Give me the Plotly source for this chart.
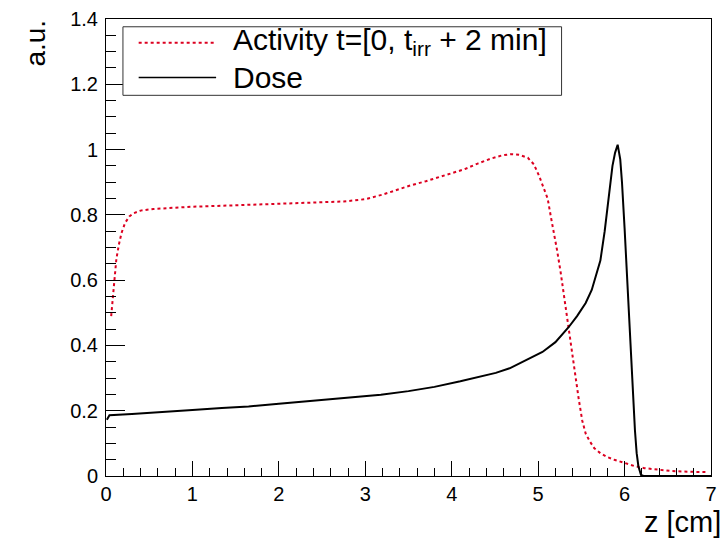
import plotly.graph_objects as go

# activity profile, t = [0, t_irr + 2 min]
act_z = [0.06, 0.08, 0.10, 0.12, 0.15, 0.18, 0.22, 0.27, 0.32, 0.40, 0.55, 0.77,
         1.00, 1.25, 1.50, 1.75, 2.00, 2.25, 2.50, 2.75, 3.00, 3.20, 3.35, 3.52,
         3.70, 3.85, 4.00, 4.15, 4.30, 4.45, 4.58, 4.68, 4.78, 4.88, 4.95, 5.01,
         5.06, 5.11, 5.15, 5.18, 5.22, 5.26, 5.30, 5.34, 5.39, 5.43, 5.47, 5.51,
         5.55, 5.60, 5.65, 5.72, 5.80, 5.88, 6.00, 6.12, 6.23, 6.40, 6.55, 6.75, 6.97]
act_y = [0.49, 0.555, 0.62, 0.665, 0.71, 0.745, 0.775, 0.795, 0.805, 0.813, 0.818, 0.822,
         0.825, 0.827, 0.829, 0.832, 0.834, 0.835, 0.837, 0.841, 0.848, 0.862, 0.875, 0.89,
         0.903, 0.915, 0.927, 0.94, 0.957, 0.972, 0.982, 0.986, 0.984, 0.975, 0.955, 0.92,
         0.885, 0.85, 0.79, 0.75, 0.69, 0.625, 0.55, 0.47, 0.37, 0.30, 0.235, 0.17,
         0.13, 0.105, 0.085, 0.07, 0.058, 0.05, 0.039, 0.03, 0.024, 0.018, 0.015, 0.013, 0.012]

# dose profile
dose_z = [0.01, 0.04, 0.30, 0.58, 1.00, 1.34, 1.65, 2.00, 2.41, 2.80, 3.18, 3.50,
          3.80, 4.10, 4.35, 4.51, 4.67, 4.89, 5.05, 5.20, 5.35, 5.45, 5.55, 5.62,
          5.68, 5.72, 5.77, 5.80, 5.83, 5.86, 5.89, 5.92, 5.95, 5.97, 6.00, 6.03,
          6.06, 6.08, 6.10, 6.12, 6.14, 6.16, 6.19, 6.22, 7.00]
dose_y = [0.172, 0.186, 0.19, 0.194, 0.202, 0.208, 0.213, 0.221, 0.231, 0.24, 0.249, 0.26,
          0.273, 0.29, 0.305, 0.316, 0.33, 0.358, 0.38, 0.41, 0.455, 0.49, 0.53, 0.57,
          0.62, 0.66, 0.75, 0.82, 0.88, 0.95, 0.99, 1.015, 0.97, 0.90, 0.76, 0.60,
          0.43, 0.32, 0.22, 0.14, 0.07, 0.03, 0.003, 0.0, 0.0]

x_ticks = [0, 1, 2, 3, 4, 5, 6, 7]
y_ticks = [0, 0.2, 0.4, 0.6, 0.8, 1.0, 1.2, 1.4]
y_tick_text = ['0', '0.2', '0.4', '0.6', '0.8', '1', '1.2', '1.4']

FONT = 'Liberation Sans, Arial, Helvetica, sans-serif'
RED = '#dc0020'

fig = go.Figure()
fig.add_trace(go.Scatter(x=act_z, y=act_y, mode='lines', name='Activity',
                         line=dict(color=RED, width=2, dash='dot'), showlegend=False))
fig.add_trace(go.Scatter(x=dose_z, y=dose_y, mode='lines', name='Dose',
                         line=dict(color='black', width=2), showlegend=False))

# ROOT-style legend box drawn by hand (the sample lines are much longer than plotly's)
fig.add_shape(type='rect', xref='paper', yref='paper', x0=0.028, x1=0.753, y0=0.833, y1=0.983,
              line=dict(color='#333', width=1), fillcolor='white', layer='above')
fig.add_shape(type='line', xref='paper', yref='paper', x0=0.054, x1=0.182, y0=0.948, y1=0.948,
              line=dict(color=RED, width=2, dash='dot'), layer='above')
fig.add_shape(type='line', xref='paper', yref='paper', x0=0.054, x1=0.182, y0=0.872, y1=0.872,
              line=dict(color='black', width=1.5), layer='above')
fig.add_annotation(xref='paper', yref='paper', x=0.206, y=0.95, xanchor='left', yanchor='middle',
                   text='Activity t=[0, t<sub>irr</sub> + 2 min]', showarrow=False,
                   font=dict(family=FONT, size=30, color='black'))
fig.add_annotation(xref='paper', yref='paper', x=0.206, y=0.872, xanchor='left', yanchor='middle',
                   text='Dose', showarrow=False, font=dict(family=FONT, size=30, color='black'))

# axis titles sit at the axis ends, as in ROOT
fig.add_annotation(xref='paper', yref='paper', x=-0.116, y=0.948, xanchor='center', yanchor='middle',
                   text='a.u.', textangle=-90, showarrow=False,
                   font=dict(family=FONT, size=28, color='black'))
fig.add_annotation(xref='paper', yref='paper', x=1.02, y=-0.1, xanchor='right', yanchor='middle',
                   text='z [cm]', showarrow=False, font=dict(family=FONT, size=29, color='black'))

fig.update_xaxes(range=[0, 7], tickmode='array', tickvals=x_ticks, ticks='inside', ticklen=15,
                 tickwidth=1, tickcolor='black',
                 minor=dict(tickmode='linear', tick0=0, dtick=0.2, ticks='inside', ticklen=8,
                            tickcolor='black', showgrid=False),
                 showline=True, linecolor='black', linewidth=1, mirror=True,
                 showgrid=False, zeroline=False, ticklabelstandoff=0,
                 tickfont=dict(family=FONT, size=20, color='black'))
fig.update_yaxes(range=[0, 1.4], tickmode='array', tickvals=y_ticks, ticktext=y_tick_text,
                 ticks='inside', ticklen=19, tickwidth=1, tickcolor='black',
                 minor=dict(tickmode='linear', tick0=0, dtick=0.05, ticks='inside', ticklen=10,
                            tickcolor='black', showgrid=False),
                 showline=True, linecolor='black', linewidth=1, mirror=True,
                 showgrid=False, zeroline=False, ticklabelstandoff=3,
                 tickfont=dict(family=FONT, size=20, color='black'))

fig.update_layout(width=725, height=542, margin=dict(l=106, r=8, t=15, b=66),
                  paper_bgcolor='white', plot_bgcolor='white', showlegend=False)

# the page body has a default 8px margin; drop it so the figure fills the window
fig.write_html('out.html', config={'displayModeBar': False},
               post_script="document.body.style.margin='0px';")
